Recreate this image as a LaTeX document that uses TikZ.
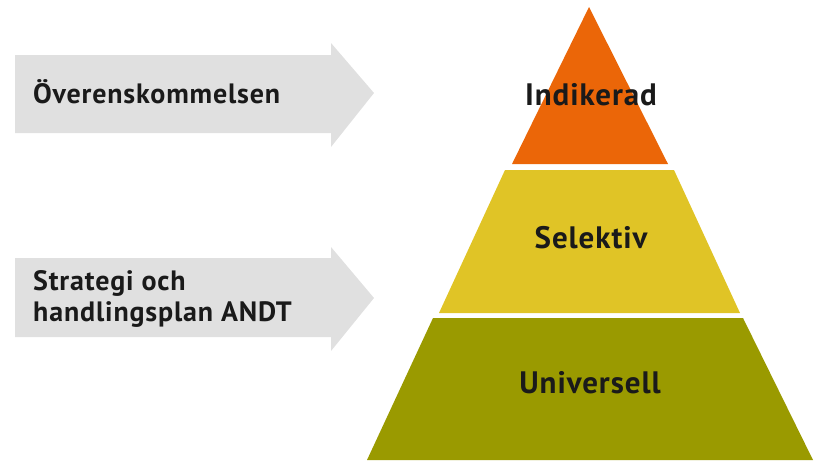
\documentclass[tikz,border=0pt]{standalone}
\usepackage{fontspec}
\setmainfont{PT Sans}[LetterSpace=3]
\definecolor{arrowgray}{HTML}{E0E0E0}
\definecolor{toporange}{HTML}{EB6608}
\definecolor{midyellow}{HTML}{E0C426}
\definecolor{baseolive}{HTML}{9A9A00}
\definecolor{txt}{HTML}{1A1A1A}
\tikzset{
  sidelbl/.style={text=txt, font=\fontsize{28}{31}\selectfont\bfseries, inner sep=0pt},
  pyrlbl/.style={text=txt, font=\fontsize{31}{36}\selectfont\bfseries, inner sep=0pt}
}
\begin{document}
\begin{tikzpicture}[x=1pt,y=-1pt]
\useasboundingbox (0,0) rectangle (826,461);
% arrows
\fill[arrowgray] (15,55) -- (331,55) -- (331,43) -- (374,93) -- (331,147) -- (331,133) -- (15,133) -- cycle;
\fill[arrowgray] (15,258) -- (331,258) -- (331,247) -- (374,298) -- (331,351) -- (331,337) -- (15,337) -- cycle;
\node[sidelbl, anchor=base west] (a1) at (33,103) {Överenskommelsen};
\node[sidelbl, anchor=base west, align=left] (a2) at (33,321) {Strategi och\\handlingsplan ANDT};
% pyramid
\fill[toporange] (589,7) -- (668,164) -- (512,164) -- cycle;
\fill[midyellow] (505,170) -- (674,170) -- (740,313) -- (439,313) -- cycle;
\fill[baseolive] (433,318) -- (743,318) -- (813,460) -- (367,460) -- cycle;
\node[pyrlbl, anchor=base] (l1) at (591,105) {Indikerad};
\node[pyrlbl, anchor=base] (l2) at (591,248) {Selektiv};
\node[pyrlbl, anchor=base] (l3) at (590,393) {Universell};
\end{tikzpicture}
\end{document}
